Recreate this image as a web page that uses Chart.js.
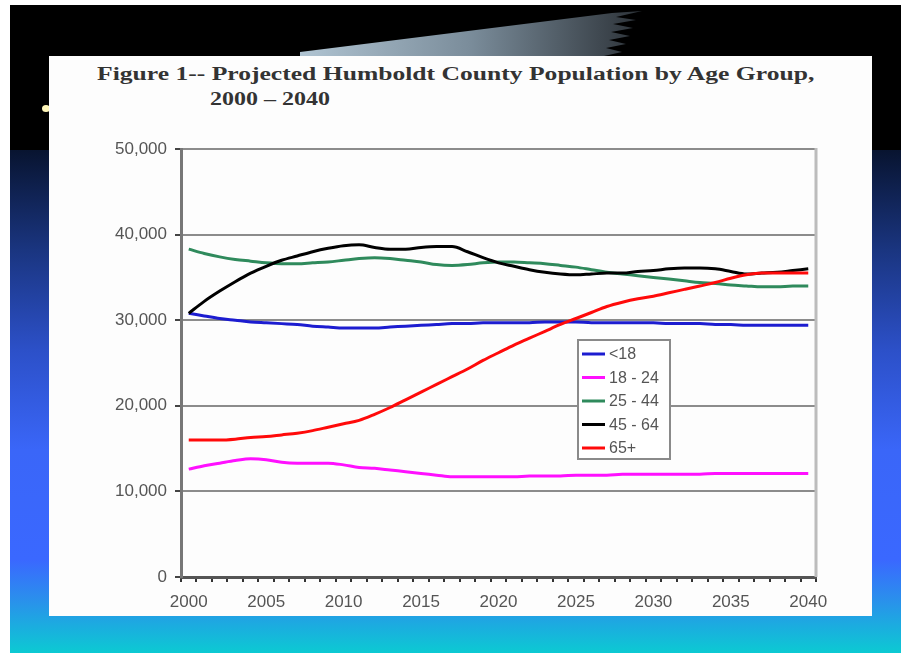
<!DOCTYPE html>
<html>
<head>
<meta charset="utf-8">
<script src="https://cdn.jsdelivr.net/npm/chart.js@4.4.1/dist/chart.umd.min.js"></script>
<style>
  html, body { margin: 0; padding: 0; background: #fff; }
  body { width: 901px; height: 654px; position: relative; overflow: hidden; }
  .slide {
    position: absolute; left: 10px; top: 5px; width: 891px; height: 648px;
    background: linear-gradient(to bottom,
      #000 0px, #000 145px, #081430 145px, #1a3580 245px, #2c50c8 345px,
      #3a66f8 445px, #3a68ff 555px, #2a90ec 595px, #0ccad2 648px);
  }
  .wedge { position: absolute; left: 0; top: 0; }
  .dot { position: absolute; left: 42px; top: 105px; width: 8px; height: 7px; border-radius: 50%; background: #fff6b8; }
  .panel { position: absolute; left: 49px; top: 56px; width: 823px; height: 560px; background: #fdfdfd; }
  .title {
    position: absolute; font-family: "Liberation Serif", "DejaVu Serif", serif; font-weight: bold;
    font-size: 18px; color: #333; white-space: nowrap; transform-origin: left top;
  }
  .chart-box { position: absolute; left: 100px; top: 125px; width: 740px; height: 490px; }
</style>
</head>
<body>
<div class="slide"></div>
<svg class="wedge" width="901" height="80">
  <defs>
    <linearGradient id="wg" x1="0" x2="1" y1="0" y2="0">
      <stop offset="0" stop-color="#b0c4d2"/>
      <stop offset="0.5" stop-color="#7a8c9a"/>
      <stop offset="1" stop-color="#2c3238"/>
    </linearGradient>
  </defs>
  <polygon fill="url(#wg)" points="300,56 300,52 612,13 642,11 616,17 636,20 613,24 633,28 611,32 630,36 609,40 626,44 606,48 622,52 604,56"/>
</svg>
<div class="dot"></div>
<div class="panel"></div>
<div class="title" id="t1" style="left:97px; top:64px;">Figure 1-- Projected Humboldt County Population by Age Group,</div>
<div class="title" id="t2" style="left:210px; top:89px;">2000 – 2040</div>
<div class="chart-box"><canvas id="popChart"></canvas></div>

<script>
// categories
const years = [2000, 2001, 2002, 2003, 2004, 2005, 2006, 2007, 2008, 2009,
  2010, 2011, 2012, 2013, 2014, 2015, 2016, 2017, 2018, 2019,
  2020, 2021, 2022, 2023, 2024, 2025, 2026, 2027, 2028, 2029,
  2030, 2031, 2032, 2033, 2034, 2035, 2036, 2037, 2038, 2039, 2040];

// series values
const under18 = [30800, 30500, 30200, 30000, 29800, 29700, 29600, 29500, 29300, 29200,
  29100, 29100, 29100, 29200, 29300, 29400, 29500, 29600, 29600, 29700,
  29700, 29700, 29700, 29800, 29800, 29800, 29700, 29700, 29700, 29700,
  29700, 29600, 29600, 29600, 29500, 29500, 29400, 29400, 29400, 29400, 29400];
const age18to24 = [12600, 13000, 13300, 13600, 13800, 13700, 13400, 13300, 13300, 13300,
  13100, 12800, 12700, 12500, 12300, 12100, 11900, 11700, 11700, 11700,
  11700, 11700, 11800, 11800, 11800, 11900, 11900, 11900, 12000, 12000,
  12000, 12000, 12000, 12000, 12100, 12100, 12100, 12100, 12100, 12100, 12100];
const age25to44 = [38300, 37800, 37400, 37100, 36900, 36700, 36600, 36600, 36700, 36800,
  37000, 37200, 37300, 37200, 37000, 36800, 36500, 36400, 36500, 36700,
  36800, 36800, 36700, 36600, 36400, 36200, 35900, 35600, 35400, 35200,
  35000, 34800, 34600, 34400, 34300, 34100, 34000, 33900, 33900, 34000, 34000];
const age45to64 = [30800, 32200, 33400, 34500, 35500, 36300, 37000, 37500, 38000, 38400,
  38700, 38800, 38500, 38300, 38300, 38500, 38600, 38600, 38000, 37300,
  36700, 36300, 35900, 35600, 35400, 35300, 35400, 35500, 35500, 35700,
  35800, 36000, 36100, 36100, 36000, 35700, 35400, 35500, 35600, 35800, 36000];
const age65plus = [16000, 16000, 16000, 16100, 16300, 16400, 16600, 16800, 17100, 17500,
  17900, 18300, 19000, 19800, 20700, 21600, 22500, 23400, 24300, 25300,
  26200, 27100, 27900, 28700, 29500, 30200, 30900, 31600, 32100, 32500,
  32800, 33200, 33600, 34000, 34400, 34900, 35300, 35500, 35500, 35500, 35500];

const seriesNames = ['<18', '18 - 24', '25 - 44', '45 - 64', '65+'];
const seriesColors = ['#1c1cd0', '#ff10ff', '#2f8a5c', '#000000', '#ff0a0a'];
const seriesData = [under18, age18to24, age25to44, age45to64, age65plus];

// y axis ticks
const yTicks = [0, 10000, 20000, 30000, 40000, 50000];

const axisFont = { family: '"Liberation Sans", Arial, sans-serif', size: 17 };
const textGray = '#555';

// fit the title width to the picture
const fitTitle = (id, width) => {
  const el = document.getElementById(id);
  el.style.transform = 'scaleX(' + (width / el.offsetWidth) + ')';
};
fitTitle('t1', 718);
fitTitle('t2', 120);

// legend box inside the plot + right frame line
const insideLegend = {
  id: 'insideLegend',
  afterDraw(chart) {
    const ctx = chart.ctx;
    const area = chart.chartArea;
    ctx.save();
    ctx.strokeStyle = '#bcbcbc';
    ctx.lineWidth = 3;
    ctx.beginPath();
    ctx.moveTo(area.right, area.top - 1);
    ctx.lineTo(area.right, area.bottom);
    ctx.stroke();

    const bx = area.left + 397;
    const by = area.top + 191;
    const bw = 92;
    const bh = 119;
    ctx.fillStyle = '#fff';
    ctx.fillRect(bx, by, bw, bh);
    ctx.strokeStyle = '#8a8a8a';
    ctx.lineWidth = 2;
    ctx.strokeRect(bx, by, bw, bh);

    ctx.font = '16px "Liberation Sans", Arial, sans-serif';
    ctx.textBaseline = 'middle';
    seriesNames.forEach((name, i) => {
      const y = by + 14 + i * 23.5;
      ctx.strokeStyle = seriesColors[i];
      ctx.lineWidth = 3;
      ctx.beginPath();
      ctx.moveTo(bx + 4, y);
      ctx.lineTo(bx + 27, y);
      ctx.stroke();
      ctx.fillStyle = textGray;
      ctx.fillText(name, bx + 31, y + 1);
    });
    ctx.restore();
  }
};

new Chart(document.getElementById('popChart'), {
  type: 'line',
  data: {
    labels: years,
    datasets: seriesData.map((values, i) => ({
      label: seriesNames[i],
      data: values,
      borderColor: seriesColors[i],
      backgroundColor: seriesColors[i],
      borderWidth: 3,
      pointRadius: 0,
      tension: 0.4,
      cubicInterpolationMode: 'monotone',
      order: 4 - i
    }))
  },
  options: {
    responsive: true,
    maintainAspectRatio: false,
    animation: false,
    layout: { padding: { top: 24, right: 24, left: 0, bottom: 0 } },
    plugins: {
      legend: { display: false },
      tooltip: { enabled: false }
    },
    scales: {
      x: {
        offset: true,
        grid: { offset: true, drawOnChartArea: false, drawTicks: true, tickLength: 5, tickColor: '#333', lineWidth: 2 },
        border: { color: '#555', width: 3 },
        ticks: {
          autoSkip: false,
          maxRotation: 0,
          padding: 10,
          color: textGray,
          font: axisFont,
          callback: (value, index) => (years[index] % 5 === 0 ? String(years[index]) : '')
        },
        afterFit: (scale) => { scale.height = 38; }
      },
      y: {
        min: 0,
        max: 50000,
        afterBuildTicks: (scale) => { scale.ticks = yTicks.map((v) => ({ value: v })); },
        grid: { color: '#8c8c8c', lineWidth: 2, tickLength: 6, tickColor: '#444' },
        border: { color: '#777', width: 3 },
        ticks: {
          padding: 8,
          color: textGray,
          font: axisFont,
          callback: (v) => v.toLocaleString('en-US')
        },
        afterFit: (scale) => { scale.width = 81; }
      }
    }
  },
  plugins: [insideLegend]
});
</script>
</body>
</html>
